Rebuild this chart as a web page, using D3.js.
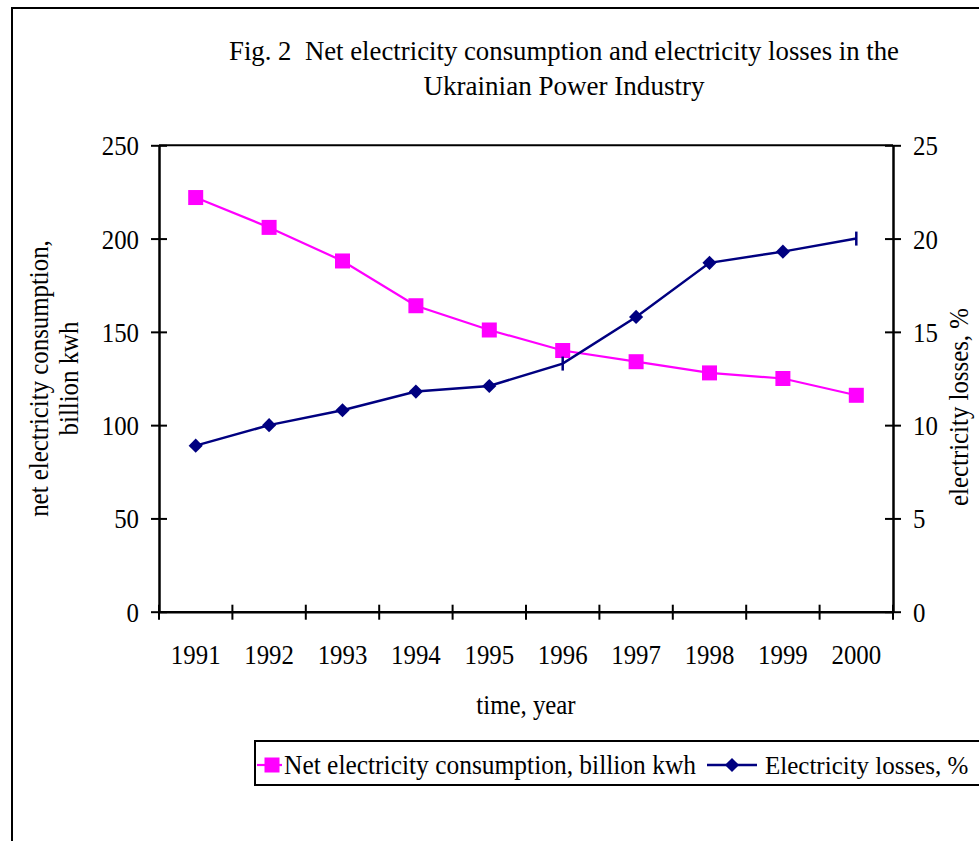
<!DOCTYPE html>
<html>
<head>
<meta charset="utf-8">
<script src="https://cdn.jsdelivr.net/npm/d3@7"></script>
<style>
  html, body { margin: 0; padding: 0; background: #fff; }
  svg { display: block; }
  text { font-family: "Liberation Serif", "Times New Roman", serif; fill: #000; }
</style>
</head>
<body>
<svg id="chart" width="979" height="841"></svg>
<script>
// Yearly values, 1991-2000
const years = ["1991", "1992", "1993", "1994", "1995", "1996", "1997", "1998", "1999", "2000"];
const netConsumption = [222, 206, 188, 164, 151, 140, 134, 128, 125, 116]; // billion kWh
const lossesPct = [8.9, 10.0, 10.8, 11.8, 12.1, 13.3, 15.8, 18.7, 19.3, 20.0]; // %
const leftTicks = [0, 50, 100, 150, 200, 250];
const rightTicks = [0, 5, 10, 15, 20, 25];
const titleLines = ["Fig. 2\u00a0\u00a0Net electricity consumption and electricity losses in the", "Ukrainian Power Industry"];
const leftAxisTitle = ["net electricity consumption,", "billion kwh"];
const rightAxisTitle = "electricity losses, %";
const xAxisTitle = "time, year";
const seriesNames = ["Net electricity consumption, billion kwh", "Electricity losses, %"];

// Years whose loss marker is drawn as a short vertical bar
const barMarkerYears = ["1996", "2000"];

const MAGENTA = "#ff00ff";
const NAVY = "#000080";
const FS = 27;          // base font size
const SQUEEZE = 0.92;  // narrow, tall lettering

// squeeze text horizontally, keeping its height
function squeeze(sel, factor, width) {
  sel.each(function () {
    const len = this.getComputedTextLength();
    d3.select(this)
      .attr("textLength", width != null ? width : len * factor)
      .attr("lengthAdjust", "spacingAndGlyphs");
  });
}

const svg = d3.select("#chart");

// outer frame
svg.append("rect")
  .attr("x", 12).attr("y", 8)
  .attr("width", 1000).attr("height", 900)
  .attr("fill", "none").attr("stroke", "#000").attr("stroke-width", 2);

const plot = { left: 159, right: 893, top: 145.3, bottom: 611.7 };

const x = d3.scaleBand().domain(years).range([plot.left, plot.right]).padding(0);
const yL = d3.scaleLinear().domain([0, 250]).range([plot.bottom, plot.top]);
const yR = d3.scaleLinear().domain([0, 25]).range([plot.bottom, plot.top]);
const cx = d => x(d) + x.bandwidth() / 2;

// title, two centred lines
const titleWidths = [670, 281];
titleLines.forEach((line, i) => {
  svg.append("text")
    .attr("text-anchor", "middle")
    .attr("font-size", 28)
    .attr("x", 564).attr("y", 60 + i * 35)
    .text(line)
    .call(squeeze, null, titleWidths[i]);
});

// top frame line of the plot area
svg.append("line")
  .attr("x1", plot.left).attr("x2", plot.right)
  .attr("y1", plot.top).attr("y2", plot.top)
  .attr("stroke", "#000").attr("stroke-width", 2);

// left axis
const gL = svg.append("g").attr("transform", `translate(${plot.left},0)`)
  .call(d3.axisLeft(yL).tickValues(leftTicks).tickSizeInner(8).tickSizeOuter(0).tickPadding(12));
gL.select(".domain").attr("stroke-width", 2.5);
gL.selectAll(".tick line").attr("x1", 8).attr("stroke-width", 2);
gL.selectAll(".tick text").attr("font-size", FS).attr("font-family", "Liberation Serif").attr("dy", "0.35em")
  .call(squeeze, SQUEEZE);

// right axis
const gR = svg.append("g").attr("transform", `translate(${plot.right},0)`)
  .call(d3.axisRight(yR).tickValues(rightTicks).tickSizeInner(8).tickSizeOuter(0).tickPadding(12));
gR.select(".domain").attr("stroke-width", 2.5);
gR.selectAll(".tick line").attr("x1", -8).attr("stroke-width", 2);
gR.selectAll(".tick text").attr("font-size", FS).attr("font-family", "Liberation Serif").attr("dy", "0.35em")
  .call(squeeze, SQUEEZE);

// bottom axis: labels centred in each band, ticks at band boundaries
const gB = svg.append("g").attr("transform", `translate(0,${plot.bottom})`)
  .call(d3.axisBottom(x).tickSize(0).tickPadding(33));
gB.select(".domain").attr("stroke-width", 2.5);
gB.selectAll(".tick text").attr("font-size", FS).attr("font-family", "Liberation Serif")
  .call(squeeze, SQUEEZE);
const bounds = years.map(d => x(d)).concat([x.range()[1]]);
gB.selectAll("line.bound").data(bounds).join("line")
  .attr("class", "bound")
  .attr("x1", d => d).attr("x2", d => d)
  .attr("y1", -7).attr("y2", 8)
  .attr("stroke", "#000").attr("stroke-width", 2);

// axis titles
svg.append("text")
  .attr("text-anchor", "middle").attr("font-size", FS)
  .attr("x", (plot.left + plot.right) / 2).attr("y", 714)
  .text(xAxisTitle)
  .call(squeeze, SQUEEZE);

svg.append("g")
  .attr("transform", `translate(0,${(plot.top + plot.bottom) / 2}) rotate(-90)`)
  .selectAll("text").data(leftAxisTitle).join("text")
  .attr("text-anchor", "middle").attr("font-size", FS)
  .attr("x", 0).attr("y", (d, i) => 48 + i * 30)
  .text(d => d)
  .call(squeeze, SQUEEZE);

svg.append("text")
  .attr("transform", `translate(968,407) rotate(-90)`)
  .attr("text-anchor", "middle").attr("font-size", FS)
  .text(rightAxisTitle)
  .call(squeeze, SQUEEZE);

// series lines
const lineL = d3.line().x((d, i) => cx(years[i])).y(d => yL(d));
const lineR = d3.line().x((d, i) => cx(years[i])).y(d => yR(d));

svg.append("path").datum(netConsumption)
  .attr("d", lineL).attr("fill", "none").attr("stroke", MAGENTA).attr("stroke-width", 2.2);
svg.append("path").datum(lossesPct)
  .attr("d", lineR).attr("fill", "none").attr("stroke", NAVY).attr("stroke-width", 2.5);

// markers
const sq = 15;
svg.selectAll("rect.sq").data(netConsumption).join("rect")
  .attr("class", "sq")
  .attr("x", (d, i) => cx(years[i]) - sq / 2)
  .attr("y", d => yL(d) - sq / 2)
  .attr("width", sq).attr("height", sq)
  .attr("fill", MAGENTA);

const diamond = d3.symbol().type(d3.symbolSquare).size(100);
const lossPts = lossesPct.map((v, i) => ({ year: years[i], v }));
svg.selectAll("path.dm").data(lossPts.filter(p => !barMarkerYears.includes(p.year))).join("path")
  .attr("class", "dm")
  .attr("d", diamond)
  .attr("transform", p => `translate(${cx(p.year)},${yR(p.v)}) rotate(45)`)
  .attr("fill", NAVY);
svg.selectAll("line.bm").data(lossPts.filter(p => barMarkerYears.includes(p.year))).join("line")
  .attr("class", "bm")
  .attr("x1", p => cx(p.year)).attr("x2", p => cx(p.year))
  .attr("y1", p => yR(p.v) - 7).attr("y2", p => yR(p.v) + 7)
  .attr("stroke", NAVY).attr("stroke-width", 2.5);

// legend (box runs past the right edge)
const lg = svg.append("g");
lg.append("rect")
  .attr("x", 255).attr("y", 741)
  .attr("width", 800).attr("height", 44)
  .attr("fill", "#fff").attr("stroke", "#000").attr("stroke-width", 2);

const ly = 765;
lg.append("line").attr("x1", 257).attr("x2", 282).attr("y1", ly).attr("y2", ly)
  .attr("stroke", MAGENTA).attr("stroke-width", 2.2);
lg.append("rect").attr("x", 272 - sq / 2).attr("y", ly - sq / 2).attr("width", sq).attr("height", sq)
  .attr("fill", MAGENTA);
lg.append("text").attr("x", 284).attr("y", ly + 9).attr("font-size", FS).text(seriesNames[0])
  .call(squeeze, null, 412);

lg.append("line").attr("x1", 707).attr("x2", 757).attr("y1", ly).attr("y2", ly)
  .attr("stroke", NAVY).attr("stroke-width", 2.5);
lg.append("path").attr("d", diamond)
  .attr("transform", `translate(732,${ly}) rotate(45)`).attr("fill", NAVY);
lg.append("text").attr("x", 765).attr("y", ly + 9).attr("font-size", 25).text(seriesNames[1]);
</script>
</body>
</html>
